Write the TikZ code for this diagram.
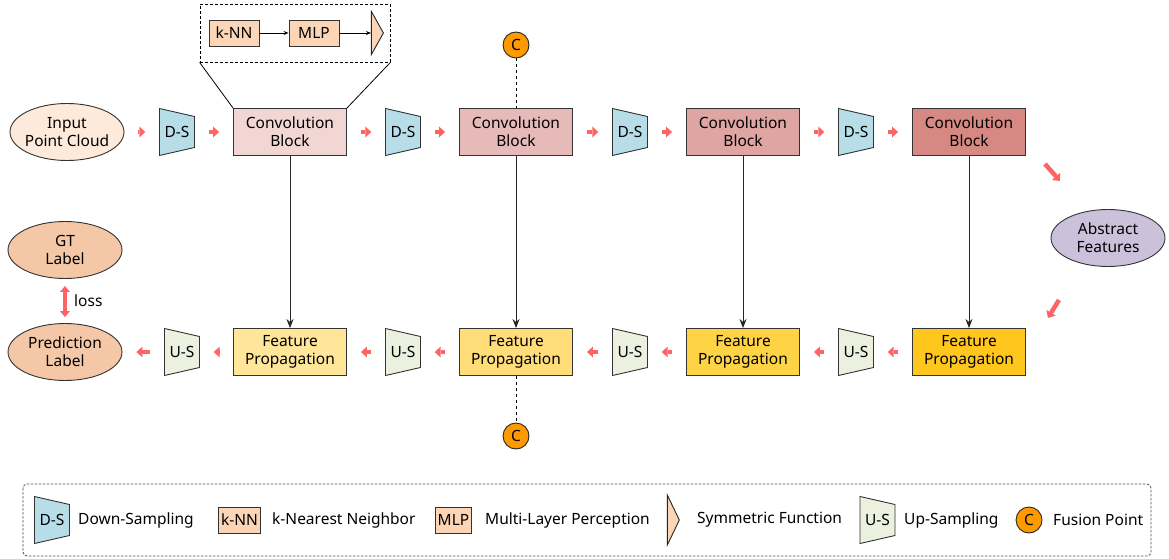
\documentclass[tikz,border=0pt]{standalone}
\usepackage{fontspec}
\setmainfont{Noto Sans}
\usetikzlibrary{arrows.meta,shapes.geometric,calc}

\definecolor{inputc}{RGB}{253,234,218}
\definecolor{labelc}{RGB}{244,199,167}
\definecolor{dsblue}{RGB}{183,221,232}
\definecolor{usgreen}{RGB}{235,241,222}
\definecolor{convA}{RGB}{242,214,212}
\definecolor{convB}{RGB}{230,186,184}
\definecolor{convC}{RGB}{222,165,162}
\definecolor{convD}{RGB}{213,137,130}
\definecolor{fpA}{RGB}{255,230,153}
\definecolor{fpB}{RGB}{255,222,122}
\definecolor{fpC}{RGB}{255,211,70}
\definecolor{fpD}{RGB}{255,198,30}
\definecolor{abstractc}{RGB}{204,193,218}
\definecolor{peach}{RGB}{251,213,181}
\definecolor{fuseorange}{RGB}{255,153,0}
\definecolor{flowred}{RGB}{255,100,100}

\tikzset{
  every node/.style={font=\fontsize{15.5}{18}\selectfont},
  blockbox/.style={draw=black!80, line width=0.9pt, minimum width=113pt,
    minimum height=47pt, align=center, inner sep=0pt},
  cloud/.style={ellipse, draw=black!80, line width=0.9pt, minimum width=114pt,
    minimum height=57pt, align=center, inner xsep=-6pt, inner ysep=0pt},
  smallbox/.style={draw=black!80, line width=0.9pt, fill=peach,
    minimum height=26pt, inner sep=2.5pt},
  fuse/.style={circle, draw=black!85, line width=0.9pt, fill=fuseorange,
    minimum size=26pt, inner sep=0pt},
  symtri/.style={isosceles triangle, isosceles triangle stretches,
    draw=black!85, line width=0.9pt, fill=peach, minimum height=12pt,
    minimum width=43pt, inner sep=0pt},
  flow/.style={draw=flowred, line width=4.5pt,
    -{Triangle[length=6pt,width=11pt,line width=0pt]},
    shorten <=#1, shorten >=#1},
  flow/.default=14pt,
  down/.style={draw=black!85, line width=0.9pt, -{Stealth[length=9pt,width=7pt]}},
  link/.style={draw=black, line width=0.8pt, -{Stealth[length=5pt,width=4pt]}},
  keytext/.style={anchor=west, inner sep=0pt}
}

% trapezoid for down/up sampling: name, centre, fill, label
\newcommand{\sampler}[4]{%
  \draw[draw=black!80, line width=0.9pt, fill=#3]
    ($(#2)+(-17.5,-23.5)$) -- ($(#2)+(17.5,-15.5)$) --
    ($(#2)+(17.5,15.5)$) -- ($(#2)+(-17.5,23.5)$) -- cycle;
  \node[minimum width=35pt, minimum height=47pt, inner sep=0pt] (#1) at (#2) {#4};
}

\begin{document}
\begin{tikzpicture}[x=1pt, y=-1pt]
\useasboundingbox (0,0) rectangle (1169,559);

% encoder row
\node[cloud, fill=inputc] (input) at (67,132) {Input\\Point Cloud};
\sampler{dsA}{177,132}{dsblue}{D-S}
\node[blockbox, fill=convA] (convA) at (290,132) {Convolution\\Block};
\sampler{dsB}{403,132}{dsblue}{D-S}
\node[blockbox, fill=convB] (convB) at (516,132) {Convolution\\Block};
\sampler{dsC}{630,132}{dsblue}{D-S}
\node[blockbox, fill=convC] (convC) at (743,132) {Convolution\\Block};
\sampler{dsD}{856,132}{dsblue}{D-S}
\node[blockbox, fill=convD] (convD) at (969,132) {Convolution\\Block};

\draw[flow] (input) -- (dsA);
\draw[flow] (dsA) -- (convA);
\draw[flow] (convA) -- (dsB);
\draw[flow] (dsB) -- (convB);
\draw[flow] (convB) -- (dsC);
\draw[flow] (dsC) -- (convC);
\draw[flow] (convC) -- (dsD);
\draw[flow] (dsD) -- (convD);

% bottleneck
\node[cloud, fill=abstractc] (abstract) at (1108,238) {Abstract\\Features};
\draw[flow=0pt] ($(convD.south east)+(19,8)$) -- ++(15,17);
\draw[flow=0pt] ($(convD.south east)+(33,144)$) -- ++(-11,18);

% decoder row
\node[blockbox, fill=fpD] (fpD) at (969,352) {Feature\\Propagation};
\sampler{usD}{856,352}{usgreen}{U-S}
\node[blockbox, fill=fpC] (fpC) at (743,352) {Feature\\Propagation};
\sampler{usC}{630,352}{usgreen}{U-S}
\node[blockbox, fill=fpB] (fpB) at (516,352) {Feature\\Propagation};
\sampler{usB}{403,352}{usgreen}{U-S}
\node[blockbox, fill=fpA] (fpA) at (290,352) {Feature\\Propagation};
\sampler{usA}{182,352}{usgreen}{U-S}
\node[cloud, fill=labelc] (pred) at (65,352) {Prediction\\Label};
\node[cloud, fill=labelc] (gt) at (65,250) {GT\\Label};

\draw[flow] (fpD) -- (usD);
\draw[flow] (usD) -- (fpC);
\draw[flow] (fpC) -- (usC);
\draw[flow] (usC) -- (fpB);
\draw[flow] (fpB) -- (usB);
\draw[flow] (usB) -- (fpA);
\draw[flow] (fpA) -- (usA);
\draw[flow] (usA) -- (pred);

% loss between prediction and ground truth
\draw[draw=flowred, line width=4pt,
  {Triangle[length=6pt,width=10pt,line width=0pt]}-{Triangle[length=6pt,width=10pt,line width=0pt]},
  shorten <=7pt, shorten >=6pt] (gt) -- (pred);
\node[anchor=west, inner sep=0pt] (loss) at (74,301) {loss};

% skip connections
\draw[down] (convA) -- (fpA);
\draw[down] (convB) -- (fpB);
\draw[down] (convC) -- (fpC);
\draw[down] (convD) -- (fpD);

% fusion points
\node[fuse] (fuseTop) at (516,45) {C};
\node[fuse] (fuseBot) at (516,436) {C};
\draw[dashed, line width=0.8pt] (fuseTop) -- (convB);
\draw[dashed, line width=0.8pt] (fpB) -- (fuseBot);

% inside a convolution block
\node[draw, line width=0.8pt, dash pattern=on 3pt off 2pt,
  minimum width=190pt, minimum height=58pt, inner sep=0pt] (inset) at (295,33) {};
\draw[line width=0.8pt] (inset.south west) -- (convA.north west);
\draw[line width=0.8pt] (inset.south east) -- (convA.north east);
\node[smallbox, minimum width=50pt] (knn) at (234,33) {k-NN};
\node[smallbox, minimum width=50pt] (mlp) at (314,33) {MLP};
\node[symtri] (sym) at (377,33) {};
\draw[link] (knn) -- (mlp);
\draw[link] (mlp) -- (sym.west);

% legend
\draw[draw=black!70, line width=0.8pt, dash pattern=on 2.5pt off 1.5pt,
  rounded corners=4pt] (23,484) rectangle (1151,556);
\sampler{keyDS}{52,520}{dsblue}{D-S}
\node[keytext] (keyDStext) at (78,520) {Down-Sampling};
\node[smallbox] (keyKNN) at (239.5,520) {k-NN};
\node[keytext] (keyKNNtext) at (272,520) {k-Nearest Neighbor};
\node[smallbox] (keyMLP) at (453.5,520) {MLP};
\node[keytext] (keyMLPtext) at (485,520) {Multi-Layer Perception};
\node[symtri, minimum width=50pt] (keySym) at (673,520) {};
\node[keytext] (keySymtext) at (697,520) {Symmetric Function};
\sampler{keyUS}{877.5,520}{usgreen}{U-S}
\node[keytext] (keyUStext) at (904,520) {Up-Sampling};
\node[fuse] (keyFuse) at (1029,520) {C};
\node[keytext] (keyFusetext) at (1053,520) {Fusion Point};

\end{tikzpicture}
\end{document}
